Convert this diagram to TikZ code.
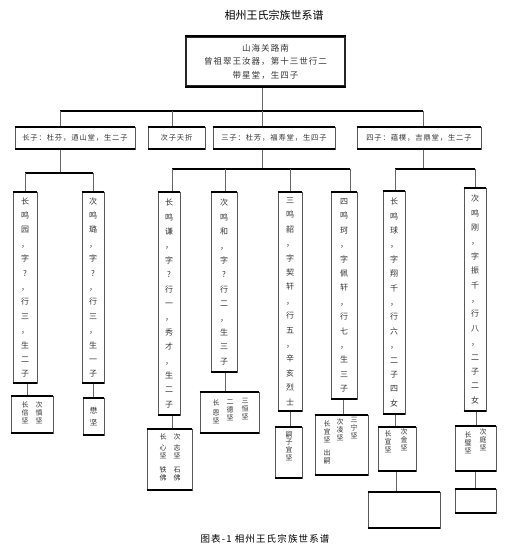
\documentclass[tikz,border=0pt]{standalone}
\usepackage{fontspec}
\newfontfamily\cjk[LetterSpace=12]{Noto Sans CJK SC}
\newfontfamily\cjkn{Noto Sans CJK SC}
\newcommand\lvone{\cjk\fontsize{8.5}{13.5}\selectfont}
\newcommand\lvtwo{\cjk\fontsize{7.3}{9}\selectfont}
\newcommand\lvthree{\cjkn\fontsize{8}{14.4}\selectfont}
\newcommand\lvfour{\cjkn\fontsize{7}{8}\selectfont}
\begin{document}
\begin{tikzpicture}[x=1pt,y=-1pt,
  bx/.style={draw=black!65,line width=0.7pt,inner sep=0pt,rectangle},
  ln/.style={draw=black!60,line width=0.8pt},
  bus/.style={draw=black,line width=1.6pt},
  edgeline/.style={line width=1.8pt,black},
  t2/.style={bx,font=\lvtwo,text=black!80,minimum height=22pt},
  vt/.style={bx,align=center,font=\lvthree,text=black!80},
  st/.style={align=center,font=\lvfour,text=black!80,inner sep=0pt}]
\useasboundingbox (0,0) rectangle (509,551);

% title
\node (title) at (274,15) {\cjkn\fontsize{11}{12}\selectfont 相州王氏宗族世系谱};

% top box
\node[bx,line width=1.4pt,draw=black!85,minimum width=159pt,minimum height=49pt,align=center,font=\lvone,text=black!80] (top) at (265.5,61.5)
  {山海关路南\\曾祖翠王汝器，第十三世行二\\带星堂，生四子};

% level 2
\node[t2,minimum width=120pt] (B1) at (75,138) {长子：杜芬，迺山堂，生二子};
\node[t2,minimum width=57pt] (B2) at (176.5,138) {次子夭折};
\node[t2,minimum width=122pt] (B3) at (274,138) {三子：杜芳，福寿堂，生四子};
\node[t2,minimum width=124pt] (B4) at (419,138) {四子：蕴樸，吉鼎堂，生二子};

% level 3
\node[vt,minimum width=24pt,minimum height=191pt] (C1) at (25,287.5)
  {长\\鸣\\园\\，\\字\\?\\，\\行\\三\\，\\生\\二\\子};
\node[vt,minimum width=22pt,minimum height=191pt] (C2) at (93,287.5)
  {次\\鸣\\璐\\，\\字\\?\\，\\行\\三\\，\\生\\一\\子};
\node[vt,minimum width=22pt,minimum height=223pt] (C3) at (169,303.5)
  {长\\鸣\\谦\\，\\字\\?\\行\\一\\，\\秀\\才\\，\\生\\二\\子};
\node[vt,minimum width=26pt,minimum height=180pt] (C4) at (224,282)
  {次\\鸣\\和\\，\\字\\?\\行\\二\\，\\生\\三\\子};
\node[vt,minimum width=24pt,minimum height=219pt] (C5) at (290,301.5)
  {三\\鸣\\韶\\，\\字\\契\\轩\\，\\行\\五\\，\\辛\\亥\\烈\\士};
\node[vt,minimum width=26pt,minimum height=207pt] (C6) at (344,295.5)
  {四\\鸣\\珂\\，\\字\\佩\\轩\\，\\行\\七\\，\\生\\三\\子};
\node[vt,minimum width=22pt,minimum height=223pt] (C7) at (394,302.5)
  {长\\鸣\\球\\，\\字\\翔\\千\\，\\行\\六\\，\\二\\子\\四\\女};
\node[vt,minimum width=22pt,minimum height=223pt] (C8) at (475,299.5)
  {次\\鸣\\刚\\，\\字\\振\\千\\，\\行\\八\\，\\二\\子\\二\\女};

% level 4 boxes
\node[bx,minimum width=42pt,minimum height=37pt] (D1) at (32,414.5) {};
\node[bx,minimum width=21pt,minimum height=37pt] (D2) at (93.5,416.5) {};
\node[bx,minimum width=45pt,minimum height=61pt] (D3) at (169.5,459.5) {};
\node[bx,minimum width=59pt,minimum height=41pt] (D4) at (229.5,412.5) {};
\node[bx,minimum width=27pt,minimum height=51pt] (D5) at (288.5,452.5) {};
\node[bx,minimum width=53pt,minimum height=60pt] (D6) at (341.5,445) {};
\node[bx,minimum width=38pt,minimum height=44pt] (D7) at (397,449) {};
\node[bx,minimum width=41pt,minimum height=45pt] (D8) at (475.5,448.5) {};
\node[bx,minimum width=72pt,minimum height=36pt] (E1) at (404,510) {};
\node[bx,minimum width=41pt,minimum height=24pt] (E2) at (475.5,501) {};

% level 4 texts
\node[st] (d1a) at (25,413) {长\\倍\\坚};
\node[st] (d1b) at (39,413) {次\\慎\\坚};
\node[st,font=\cjkn\fontsize{7.5}{12}\selectfont] (d2a) at (93.5,416.5) {懋\\坚};
\node[st] (d3a) at (163,457.5) {长\\[3pt]心\\坚\\[6pt]铁\\佛};
\node[st] (d3b) at (177,457.5) {次\\[3pt]志\\坚\\[6pt]石\\佛};
\node[st] (d4a) at (216,412) {长\\[2pt]恩\\坚};
\node[st] (d4b) at (230,410) {二\\德\\坚};
\node[st] (d4c) at (245,409) {三\\恒\\坚};
\node[st,font=\cjkn\fontsize{7}{7.6}\selectfont] (d5a) at (289,446) {嗣\\子\\宜\\坚};
\node[st] (d6a) at (327,442.5) {长\\宜\\坚\\[5pt]出\\嗣};
\node[st] (d6b) at (340,430) {次\\凌\\坚};
\node[st] (d6c) at (354,428.5) {三\\宁\\坚};
\node[st] (d7a) at (388,441.5) {长\\宣\\坚};
\node[st] (d7b) at (404,440) {次\\金\\坚};
\node[st] (d8a) at (468,442.5) {长\\璧\\坚};
\node[st] (d8b) at (483,440) {次\\庭\\坚};

% caption
\node (cap) at (265,539) {\cjk\fontsize{9.5}{11}\selectfont 图表-1 相州王氏宗族世系谱};

% junction coordinates
\coordinate (jA) at (60,111);
\coordinate (jB) at (172,111);
\coordinate (j0) at (262,111);
\coordinate (jD) at (423,111);
\coordinate (k1) at (60,173);
\coordinate (k1a) at (25,173);
\coordinate (k1b) at (93,173);
\coordinate (k3) at (262,169);
\coordinate (k3a) at (172,169);
\coordinate (k3b) at (225,169);
\coordinate (k3c) at (290,169);
\coordinate (k3d) at (350,169);
\coordinate (k4) at (423,169);
\coordinate (k4a) at (395,169);
\coordinate (k4b) at (475,169);

% connectors
\draw[ln] (j0 |- top.south) -- (j0);
\draw[bus] (jA) -- (jD);
\draw[ln] (jA) -- (jA |- B1.north);
\draw[ln] (jB) -- (jB |- B2.north);
\draw[ln] (j0) -- (j0 |- B3.north);
\draw[ln] (jD) -- (jD |- B4.north);

\draw[ln] (k1 |- B1.south) -- (k1);
\draw[bus] (k1a) -- (k1b);
\draw[ln] (k1a) -- (k1a |- C1.north);
\draw[ln] (k1b) -- (k1b |- C2.north);

\draw[ln] (k3 |- B3.south) -- (k3);
\draw[bus] (k3a) -- (k3d);
\draw[ln] (k3a) -- (k3a |- C3.north);
\draw[ln] (k3b) -- (k3b |- C4.north);
\draw[ln] (k3c) -- (k3c |- C5.north);
\draw[ln] (k3d) -- (k3d |- C6.north);

\draw[ln] (k4 |- B4.south) -- (k4);
\draw[bus] (k4a) -- (k4b);
\draw[ln] (k4a) -- (k4a |- C7.north);
\draw[ln] (k4b) -- (k4b |- C8.north);

\draw[ln] ([xshift=2pt]C1.south) -- ([xshift=2pt]C1.south |- D1.north);
\draw[ln] (C2.south) -- (C2.south |- D2.north);
\draw[ln] ([xshift=3pt]C3.south) -- ([xshift=3pt]C3.south |- D3.north);
\draw[ln] ([xshift=1pt]C4.south) -- ([xshift=1pt]C4.south |- D4.north);
\draw[ln] (C5.south) -- (C5.south |- D5.north);
\draw[ln] ([xshift=-1pt]C6.south) -- ([xshift=-1pt]C6.south |- D6.north);
\draw[ln] ([xshift=1pt]C7.south) -- ([xshift=1pt]C7.south |- D7.north);
\draw[ln] ([xshift=1pt]C8.south) -- ([xshift=1pt]C8.south |- D8.north);
\draw[ln] ([xshift=-1pt]D7.south) -- ([xshift=-1pt]D7.south |- E1.north);
\draw[ln] (D8.south) -- (D8.south |- E2.north);

% thick top and bottom edges
\foreach \n in {top,B1,B2,B3,B4,C1,C2,C3,C4,C5,C6,C7,C8,D1,D2,D3,D4,D5,D6,D7,D8,E1,E2}{
  \draw[edgeline] (\n.north west) -- (\n.north east);
  \draw[edgeline] (\n.south west) -- (\n.south east);
}
\end{tikzpicture}
\end{document}
